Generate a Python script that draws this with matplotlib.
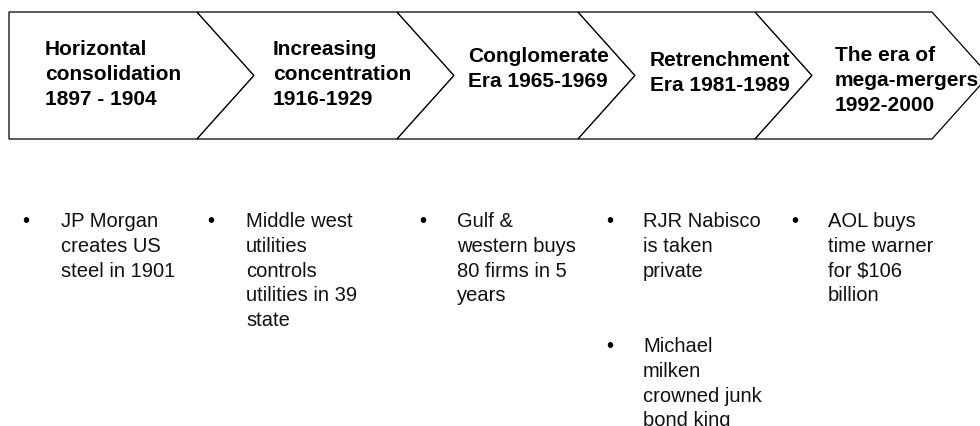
import matplotlib.pyplot as plt
from matplotlib.patches import Polygon

plt.rcParams['font.family'] = ['Liberation Sans', 'DejaVu Sans']

# era headings, one list of lines per chevron
eras = [
    ['Horizontal', 'consolidation', '1897 - 1904'],
    ['Increasing', 'concentration', '1916-1929'],
    ['Conglomerate', 'Era 1965-1969'],
    ['Retrenchment', 'Era 1981-1989'],
    ['The era of', 'mega-mergers', '1992-2000'],
]

# bullet points under each era (list of bullets, each a list of lines)
events = [
    [['JP Morgan', 'creates US', 'steel in 1901']],
    [['Middle west', 'utilities', 'controls', 'utilities in 39', 'state']],
    [['Gulf &', 'western buys', '80 firms in 5', 'years']],
    [['RJR Nabisco', 'is taken', 'private'],
     ['Michael', 'milken', 'crowned junk', 'bond king']],
    [['AOL buys', 'time warner', 'for $106', 'billion']],
]

# layout in pixel coordinates
W, H = 980, 427
top, bot, mid = 13, 140, 76.5
left = 9
corners = [197, 397, 578, 755, 932]
tip = 57
head_x = [45, 273, 468, 650, 835]
head_y = [55, 55, 62.5, 66.5, 61]
bullet_x = [22, 207, 419, 606, 791]
text_x = [61, 246, 457, 643, 828]
bullet_y = [[227], [227], [227], [227, 352], [227]]
step = 24.8
fs = 14.5

fig = plt.figure(figsize=(W / 100, H / 100), dpi=100)
ax = fig.add_axes([0, 0, 1, 1])
ax.set_xlim(0, W)
ax.set_ylim(H, 0)
ax.axis('off')

for i, c in enumerate(corners):
    if i == 0:
        pts = [(left, top), (c, top), (c + tip, mid), (c, bot), (left, bot)]
    else:
        p = corners[i - 1]
        pts = [(p, top), (c, top), (c + tip, mid), (c, bot), (p, bot), (p + tip, mid)]
    ax.add_patch(Polygon(pts, closed=True, facecolor='white', edgecolor='black',
                         linewidth=0.9, zorder=i + 1))

for i, lines in enumerate(eras):
    for j, s in enumerate(lines):
        ax.text(head_x[i], head_y[i] + j * step, s, fontsize=15, fontweight='bold',
                va='baseline', ha='left', zorder=10)

for i, bullets in enumerate(events):
    for k, lines in enumerate(bullets):
        y0 = bullet_y[i][k]
        ax.text(bullet_x[i], y0, '\u2022', fontsize=fs, va='baseline', ha='left')
        for j, s in enumerate(lines):
            ax.text(text_x[i], y0 + j * step, s, fontsize=fs, va='baseline',
                    ha='left', parse_math=False, color='#111111')

fig.savefig('out.png', dpi=100)
